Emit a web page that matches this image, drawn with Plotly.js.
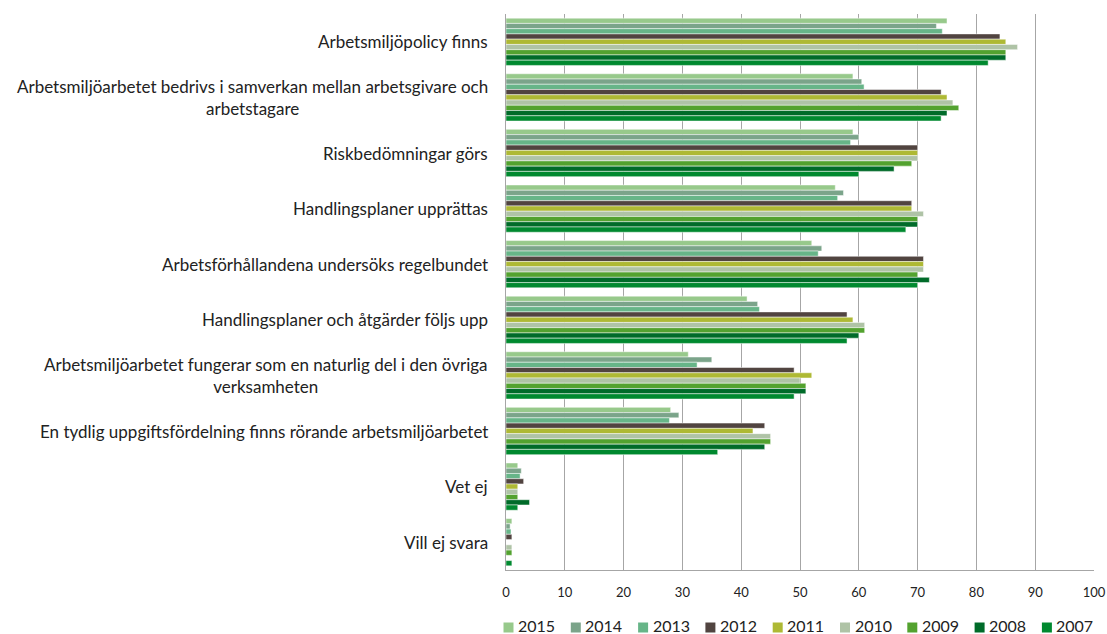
<!DOCTYPE html>
<html>
<head>
<meta charset="utf-8">
<script src="https://cdn.plot.ly/plotly-3.0.1.min.js"></script>
<style>html,body{margin:0;padding:0;background:#fff}#chart{width:1107px;height:634px}</style>
</head>
<body>
<div id="chart"></div>
<script>
const categories = [
  "Arbetsmiljöpolicy finns",
  "Arbetsmiljöarbetet bedrivs i samverkan mellan arbetsgivare och<br>arbetstagare",
  "Riskbedömningar görs",
  "Handlingsplaner upprättas",
  "Arbetsförhållandena undersöks regelbundet",
  "Handlingsplaner och åtgärder följs upp",
  "Arbetsmiljöarbetet fungerar som en naturlig del i den övriga<br>verksamheten",
  "En tydlig uppgiftsfördelning finns rörande arbetsmiljöarbetet",
  "Vet ej",
  "Vill ej svara"
];
const years = ["2015","2014","2013","2012","2011","2010","2009","2008","2007"];
const v2015 = [75, 59, 59, 56, 52, 41, 31, 28, 2, 1];
const v2014 = [73.2, 60.5, 60, 57.4, 53.7, 42.8, 35, 29.4, 2.6, 0.7];
const v2013 = [74.2, 60.9, 58.6, 56.4, 53.1, 43.1, 32.5, 27.8, 2.4, 0.85];
const v2012 = [84, 74, 70, 69, 71, 58, 49, 44, 3, 1];
const v2011 = [85, 75, 70, 69, 71, 59, 52, 42, 2, 0];
const v2010 = [87, 76, 70, 71, 71, 61, 50, 45, 2, 1];
const v2009 = [85, 77, 69, 70, 70, 61, 51, 45, 2, 1];
const v2008 = [85, 75, 66, 70, 72, 60, 51, 44, 4, 0];
const v2007 = [82, 74, 60, 68, 70, 58, 49, 36, 2, 1];
const seriesValues = [v2015, v2014, v2013, v2012, v2011, v2010, v2009, v2008, v2007];
const colors = ["#97c98b","#7ba48a","#67b588","#514440","#aeb934","#afc3a6","#53a22f","#006b29","#00892f"];

const traces = years.map((y, i) => ({
  type: "bar",
  orientation: "h",
  name: y,
  x: seriesValues[i],
  y: categories,
  marker: {color: colors[i], line: {color: "rgba(255,255,255,0.8)", width: 0.6}},
  hoverinfo: "x+name"
}));

// plot area geometry (pixels) used for legend placement
const plotL = 506, plotR = 1094, plotT = 14, plotB = 570;
const pw = plotR - plotL, ph = plotB - plotT;
const toPX = px => (px - plotL) / pw;
const toPY = py => (plotB - py) / ph;

const annotations = categories.map(c => ({
  xref: "paper", yref: "y",
  x: 0, y: c,
  xanchor: "right", yanchor: "middle",
  xshift: -16,
  align: "center",
  text: c,
  showarrow: false,
  font: {size: 17, color: "#222", family: "Lato, 'Open Sans', sans-serif"}
}));

const shapes = [];
const legSqY = 627.5, legTxtY = 625.5, legX0 = 503.5, legStep = 67.3;
years.forEach((y, i) => {
  const x0 = legX0 + legStep * i;
  shapes.push({
    type: "rect", xref: "paper", yref: "paper",
    x0: toPX(x0), x1: toPX(x0 + 10),
    y0: toPY(legSqY + 5), y1: toPY(legSqY - 5),
    fillcolor: colors[i], line: {width: 0}
  });
  annotations.push({
    xref: "paper", yref: "paper",
    x: toPX(x0 + 13.5), y: toPY(legTxtY),
    xanchor: "left", yanchor: "middle",
    borderpad: 0,
    text: y, showarrow: false,
    font: {size: 16, color: "#222", family: "Lato, 'Open Sans', sans-serif"}
  });
});

const layout = {
  width: 1107,
  height: 634,
  margin: {l: plotL, r: 1107 - plotR, t: plotT, b: 634 - plotB, autoexpand: false},
  barmode: "group",
  bargap: 0.15,
  bargroupgap: 0,
  paper_bgcolor: "#fff",
  plot_bgcolor: "#fff",
  font: {family: "Lato, 'Open Sans', sans-serif", size: 17, color: "#222"},
  xaxis: {
    range: [0, 100],
    dtick: 10,
    showgrid: true,
    gridcolor: "#a6a6a6",
    gridwidth: 1,
    zeroline: false,
    showline: true,
    linecolor: "#a6a6a6",
    linewidth: 1,
    ticks: "",
    ticklabelstandoff: 10,
    tickfont: {size: 13, color: "#222"},
    fixedrange: true
  },
  yaxis: {
    autorange: "reversed",
    type: "category",
    showgrid: false,
    zeroline: false,
    showline: true,
    linecolor: "#a6a6a6",
    linewidth: 1,
    ticks: "",
    showticklabels: false,
    fixedrange: true
  },
  showlegend: false,
  annotations: annotations,
  shapes: shapes
};

Plotly.newPlot("chart", traces, layout, {displayModeBar: false, staticPlot: true});
</script>
</body>
</html>
